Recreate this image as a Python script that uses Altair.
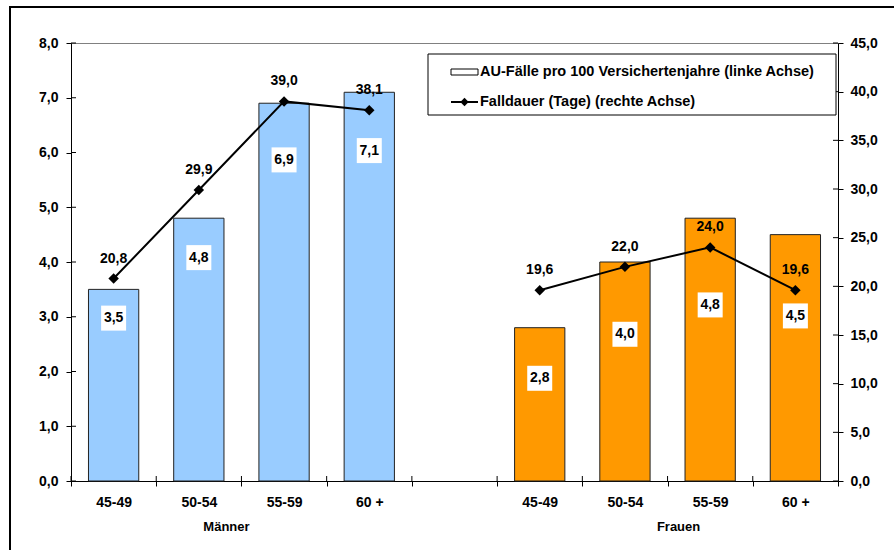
import altair as alt
import pandas as pd

# AU-Fälle pro 100 Versichertenjahre und Falldauer nach Geschlecht und Altersgruppe
groups = ["Männer", "Männer", "Männer", "Männer", "Frauen", "Frauen", "Frauen", "Frauen"]
age_bands = ["45-49", "50-54", "55-59", "60 +", "45-49", "50-54", "55-59", "60 +"]
cases_per_100 = [3.5, 4.8, 6.9, 7.1, 2.8, 4.0, 4.8, 4.5]
case_duration = [20.8, 29.9, 39.0, 38.1, 19.6, 22.0, 24.0, 19.6]

legend_labels = ["AU-Fälle pro 100 Versichertenjahre (linke Achse)",
                 "Falldauer (Tage) (rechte Achse)"]
left_ticks = [0, 1, 2, 3, 4, 5, 6, 7, 8]
right_ticks = [0, 5, 10, 15, 20, 25, 30, 35, 40, 45]

FONT = "Liberation Sans"
FS = 14
W, H = 767, 438
PAD = {"left": 71, "top": 43, "right": 56, "bottom": 69}

code = {"Männer": "M", "Frauen": "F"}
df = pd.DataFrame({
    "group": groups,
    "age": age_bands,
    "cases": cases_per_100,
    "dur": case_duration,
})
df["slot"] = [f"{code[g]}|{a}" for g, a in zip(groups, age_bands)]
keys = list(df["slot"])
# an empty category separates the two groups
slots = keys[:4] + ["gap"] + keys[4:]

comma = "replace(format({}, '.1f'), '.', ',')"

x_scale = alt.Scale(domain=slots, paddingInner=0, paddingOuter=0)
x_axis = alt.Axis(
    title=None, labelAngle=0, tickBand="extent", tickSize=5, labelPadding=9,
    labelExpr="datum.value == 'gap' ? '' : split(datum.value, '|')[1]",
)
X = alt.X("slot:N", scale=x_scale, sort=slots, axis=x_axis)

yl_scale = alt.Scale(domain=[0, 8], nice=False)
yl_axis = alt.Axis(title=None, values=left_ticks, grid=False, tickSize=5,
                   labelPadding=8, labelExpr=comma.format("datum.value"))
yr_scale = alt.Scale(domain=[0, 45], nice=False)
yr_axis = alt.Axis(title=None, orient="right", values=right_ticks, grid=False,
                   tickSize=5, labelPadding=7, labelExpr=comma.format("datum.value"))

base = alt.Chart(df).transform_calculate(
    cases_label=comma.format("datum.cases"),
    dur_label=comma.format("datum.dur"),
    # value labels sit inside the bars, lower for Frauen to stay clear of the line
    label_y="datum.cases * (datum.group == 'Männer' ? 0.85 : 0.67)",
)

bars = base.mark_bar(width=alt.RelativeBandSize(0.59), stroke="#222", strokeWidth=1).encode(
    x=X,
    y=alt.Y("cases:Q", scale=yl_scale, axis=yl_axis),
    color=alt.Color("group:N", scale=alt.Scale(domain=["Männer", "Frauen"],
                                                range=["#99CCFF", "#FF9900"]), legend=None),
)
label_boxes = base.mark_point(shape="square", filled=True, color="white", opacity=1,
                              size=625, strokeWidth=0).encode(
    x=X, y=alt.Y("label_y:Q", scale=yl_scale, axis=yl_axis))
label_text = base.mark_text().encode(
    x=X, y=alt.Y("label_y:Q", scale=yl_scale, axis=yl_axis), text="cases_label:N")
left_inner_ticks = alt.Chart(pd.DataFrame({"v": left_ticks})).mark_rule(color="black").encode(
    y=alt.Y("v:Q", scale=yl_scale, axis=yl_axis), x=alt.value(0), x2=alt.value(5))

left_layer = alt.layer(bars, label_boxes, label_text, left_inner_ticks)

line = base.mark_line(color="black", strokeWidth=2).encode(
    x=X, y=alt.Y("dur:Q", scale=yr_scale, axis=yr_axis), detail="group:N")
points = base.mark_point(shape="diamond", filled=True, color="black", opacity=1, size=110).encode(
    x=X, y=alt.Y("dur:Q", scale=yr_scale, axis=yr_axis))
line_text = base.mark_text(dy=-20).encode(
    x=X, y=alt.Y("dur:Q", scale=yr_scale, axis=yr_axis), text="dur_label:N")
right_inner_ticks = alt.Chart(pd.DataFrame({"v": right_ticks})).mark_rule(color="black").encode(
    y=alt.Y("v:Q", scale=yr_scale, axis=yr_axis), x=alt.value(W - 5), x2=alt.value(W))

right_layer = alt.layer(line, points, line_text, right_inner_ticks)

# inward halves of the category ticks
slot_df = pd.DataFrame({"slot": slots})
x_inner_ticks = alt.Chart(slot_df).mark_rule(color="black").encode(
    x=alt.X("slot:N", scale=x_scale, sort=slots, axis=x_axis, bandPosition=0),
    y=alt.value(H - 5), y2=alt.value(H))

# group names below the age bands
grp_df = pd.DataFrame({"name": ["Männer", "Frauen"], "slot": ["M|50-54", "F|50-54"]})
grp_m = alt.Chart(grp_df).transform_filter("datum.name == 'Männer'").mark_text(
    dx=-15, fontSize=13).encode(
    x=alt.X("slot:N", scale=x_scale, sort=slots, axis=x_axis, bandPosition=1),
    y=alt.value(H + 46), text="name:N")
grp_f = alt.Chart(grp_df).transform_filter("datum.name == 'Frauen'").mark_text(
    dx=11, fontSize=13).encode(
    x=alt.X("slot:N", scale=x_scale, sort=slots, axis=x_axis, bandPosition=1),
    y=alt.value(H + 46), text="name:N")

# legend box
one = pd.DataFrame({"k": [0]})
leg_box = alt.Chart(one).mark_rect(fill="white", stroke="black", strokeWidth=1).encode(
    x=alt.value(357), x2=alt.value(765), y=alt.value(11), y2=alt.value(72))
leg_bar = alt.Chart(one).mark_rect(fill="white", stroke="black", strokeWidth=1).encode(
    x=alt.value(380), x2=alt.value(407), y=alt.value(26), y2=alt.value(32))
leg_line = alt.Chart(one).mark_rule(color="black", strokeWidth=2).encode(
    x=alt.value(380), x2=alt.value(407), y=alt.value(59))
leg_diamond = alt.Chart(one).mark_point(shape="diamond", filled=True, color="black",
                                        opacity=1, size=70).encode(
    x=alt.value(393.5), y=alt.value(59))
leg_text_1 = alt.Chart(pd.DataFrame({"t": legend_labels[:1]})).mark_text(
    align="left", fontSize=14.5).encode(x=alt.value(409), y=alt.value(29), text="t:N")
leg_text_2 = alt.Chart(pd.DataFrame({"t": legend_labels[1:]})).mark_text(
    align="left", fontSize=14.5).encode(x=alt.value(409), y=alt.value(59), text="t:N")

# outer frame
frame_left = alt.Chart(one).mark_rule(color="black", strokeWidth=2).encode(
    x=alt.value(-61), y=alt.value(-36), y2=alt.value(H + PAD["bottom"] + 5))
frame_top = alt.Chart(one).mark_rule(color="black", strokeWidth=2).encode(
    x=alt.value(-62), x2=alt.value(W + PAD["right"] + 5), y=alt.value(-36))

chart = alt.layer(
    left_layer, right_layer, x_inner_ticks, grp_m, grp_f,
    leg_box, leg_bar, leg_line, leg_diamond, leg_text_1, leg_text_2,
    frame_left, frame_top,
).resolve_scale(y="independent").properties(
    width=W, height=H, padding=PAD,
    autosize=alt.AutoSizeParams(type="none"),
    background="white",
).configure_view(
    stroke="#808080", strokeWidth=1,
).configure_axis(
    domainColor="black", tickColor="black", labelColor="black",
    labelFont=FONT, labelFontSize=FS, labelFontWeight="bold",
).configure_text(
    font=FONT, fontSize=FS, fontWeight="bold", color="black",
)

chart.save("out.html", embed_options={"renderer": "svg", "actions": False})
